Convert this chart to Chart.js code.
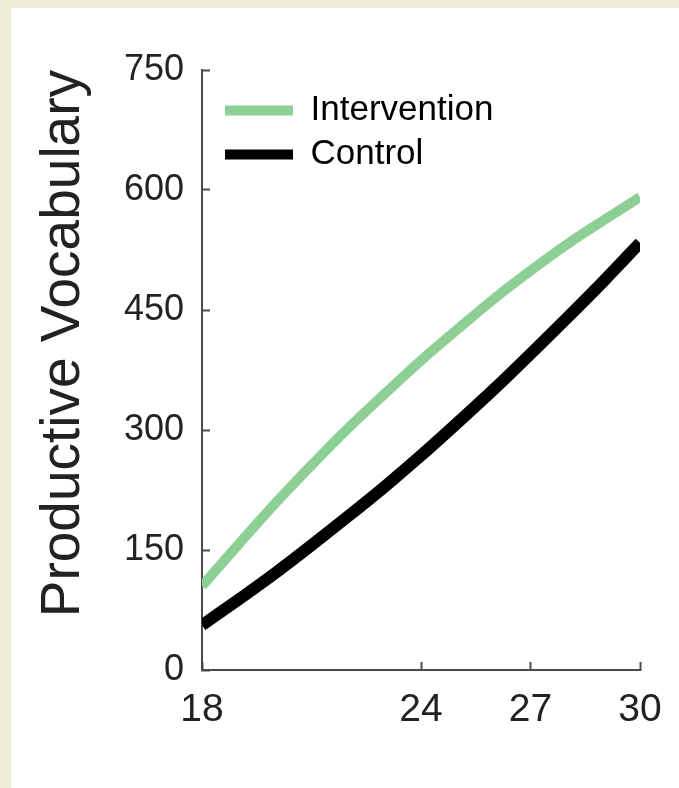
<!DOCTYPE html>
<html>
<head>
<meta charset="utf-8">
<script src="https://cdn.jsdelivr.net/npm/chart.js@4/dist/chart.umd.min.js"></script>
<style>
  html, body { margin: 0; padding: 0; background: #eeebd7; }
  body { width: 679px; height: 788px; position: relative; overflow: hidden; }
  #panel { position: absolute; left: 11px; top: 8px; width: 668px; height: 780px; background: #ffffff; }
  canvas { display: block; }
</style>
</head>
<body>
<div id="panel"><canvas id="chart"></canvas></div>
<script>
// Age in months and modelled productive vocabulary for each group
const months = [18, 19, 20, 21, 22, 23, 24, 25, 26, 27, 28, 29, 30];
const intervention = [105, 157, 208, 256, 302, 345, 387, 426, 464, 499, 532, 562, 591];
const control = [56, 88, 121, 156, 192, 229, 268, 309, 351, 395, 440, 486, 534];
const xTicks = [18, 24, 27, 30];
const yTicks = [0, 150, 300, 450, 600, 750];

const FONT = "'Liberation Sans', Arial, Helvetica, sans-serif";
const INK = '#222222';
const AXIS = '#4a4a4a';

const toPoints = vals => months.map((m, i) => ({ x: m, y: vals[i] }));

// The legend sits inside the plot, near its upper-left corner
const legendInPlot = {
  id: 'legendInPlot',
  afterLayout(chart) {
    const lg = chart.legend;
    if (!lg) return;
    lg.left = chart.chartArea.left + 14;
    lg.top = chart.chartArea.top + 14;
  }
};

new Chart(document.getElementById('chart'), {
  type: 'line',
  data: {
    datasets: [
      {
        label: 'Intervention',
        data: toPoints(intervention),
        borderColor: '#8dcf95',
        backgroundColor: '#8dcf95',
        borderWidth: 10,
        borderCapStyle: 'butt',
        pointRadius: 0,
        cubicInterpolationMode: 'monotone'
      },
      {
        label: 'Control',
        data: toPoints(control),
        borderColor: '#000000',
        backgroundColor: '#000000',
        borderWidth: 12,
        borderCapStyle: 'butt',
        pointRadius: 0,
        cubicInterpolationMode: 'monotone'
      }
    ]
  },
  plugins: [legendInPlot],
  options: {
    responsive: true,
    maintainAspectRatio: false,
    animation: false,
    layout: { padding: { left: 0, top: 62, right: 39, bottom: 0 } },
    plugins: {
      tooltip: { enabled: false },
      legend: {
        position: 'chartArea',
        align: 'start',
        labels: {
          font: { family: FONT, size: 35 },
          color: INK,
          boxWidth: 68,
          boxHeight: 10,
          padding: 9,
          generateLabels: chart => chart.data.datasets.map((ds, i) => ({
            text: ds.label,
            fillStyle: ds.borderColor,
            strokeStyle: ds.borderColor,
            lineWidth: 0,
            datasetIndex: i
          }))
        }
      }
    },
    scales: {
      x: {
        type: 'linear',
        min: 18,
        max: 30,
        afterBuildTicks: s => { s.ticks = xTicks.map(v => ({ value: v })); },
        afterFit: s => { s.height = 118; s.paddingRight = 0; s.paddingLeft = 0; },
        border: { display: true, color: AXIS, width: 2 },
        grid: { display: true, drawOnChartArea: false, drawTicks: true, tickLength: -8, tickWidth: 2, tickColor: AXIS },
        ticks: { font: { family: FONT, size: 39 }, color: INK, padding: 25, maxRotation: 0, autoSkip: false }
      },
      y: {
        type: 'linear',
        min: 0,
        max: 750,
        afterBuildTicks: s => { s.ticks = yTicks.map(v => ({ value: v })); },
        afterFit: s => { s.width = 191; },
        border: { display: true, color: AXIS, width: 2 },
        grid: { display: true, drawOnChartArea: false, drawTicks: true, tickLength: -8, tickWidth: 2, tickColor: AXIS },
        ticks: { font: { family: FONT, size: 36 }, color: INK, padding: 26 },
        title: {
          display: true,
          align: 'end',
          text: 'Productive Vocabulary',
          font: { family: FONT, size: 55 },
          color: INK,
          padding: { top: 20, bottom: 0 }
        }
      }
    }
  }
});
</script>
</body>
</html>
